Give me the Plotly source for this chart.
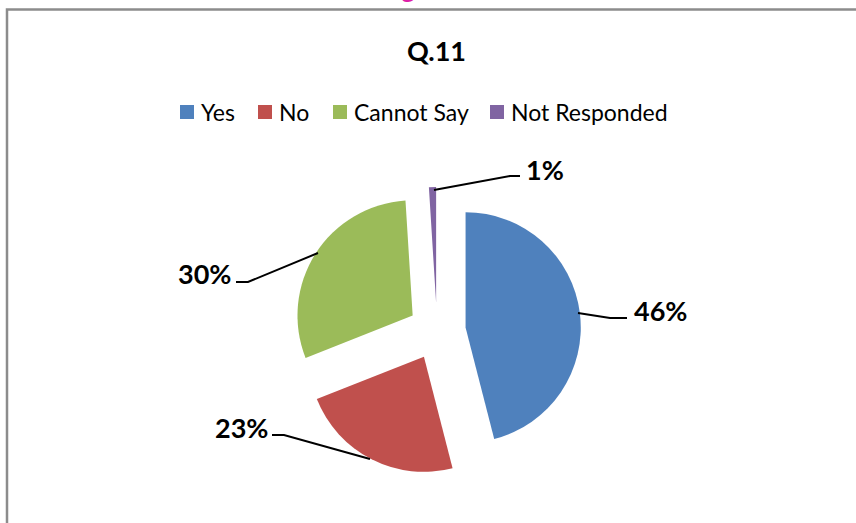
import plotly.graph_objects as go

# Survey responses for Q.11
labels = ["Yes", "No", "Cannot Say", "Not Responded"]
values = [46, 23, 30, 1]
colors = ["#4F81BD", "#C0504D", "#9BBB59", "#8064A2"]

W, H = 856, 523
FONT = "Lato"


def px(x):
    return x / W


def py(y):
    return 1 - y / H


fig = go.Figure()

fig.add_trace(go.Pie(
    labels=labels,
    values=values,
    sort=False,
    direction="clockwise",
    rotation=0,
    pull=[0.25] * len(values),
    marker=dict(colors=colors, line=dict(width=0)),
    textinfo="none",
    hoverinfo="label+percent",
    showlegend=False,
    domain=dict(x=[px(437 - 144), px(437 + 144)], y=[py(331 + 144), py(331 - 144)]),
))

total = sum(values)

# Percentage labels with leader lines
label_pos = [(660, 310), (241, 427), (204, 273), (545, 169)]
leaders = [
    [(578, 313), (610, 318), (627, 318)],
    [(370, 459), (284, 435), (272, 435)],
    [(318, 253), (248, 282), (236, 282)],
    [(434, 190), (510, 176), (520, 176)],
]

annotations = []
shapes = []
for v, (lx, ly), pts in zip(values, label_pos, leaders):
    annotations.append(dict(
        x=px(lx), y=py(ly), xref="paper", yref="paper",
        text=f"<b>{round(100 * v / total)}%</b>", showarrow=False,
        font=dict(family=FONT, size=27, color="black"),
        xanchor="center", yanchor="middle",
    ))
    path = "M " + " L ".join(f"{px(x)},{py(y)}" for x, y in pts)
    shapes.append(dict(type="path", path=path, xref="paper", yref="paper",
                       line=dict(color="black", width=2)))

# Legend row
legend_x = [180, 258, 333, 490]
for name, c, lx in zip(labels, colors, legend_x):
    shapes.append(dict(type="rect", xref="paper", yref="paper",
                       x0=px(lx), x1=px(lx + 14), y0=py(119), y1=py(105),
                       fillcolor=c, line=dict(width=0)))
    annotations.append(dict(
        x=px(lx + 19), y=py(112), xref="paper", yref="paper",
        text=name, showarrow=False, xanchor="left", yanchor="middle",
        font=dict(family=FONT, size=23, color="black"),
    ))

# Chart title
annotations.append(dict(
    x=px(437), y=py(50), xref="paper", yref="paper",
    text="<b>Q.11</b>", showarrow=False, xanchor="center", yanchor="middle",
    font=dict(family=FONT, size=27, color="black"),
))

# Figure caption above the chart frame
annotations.append(dict(
    x=px(378), y=py(-12), xref="paper", yref="paper",
    text="<b>Fig. 11</b>", showarrow=False, xanchor="left", yanchor="middle",
    font=dict(family=FONT, size=26, color="#DD1FA8"),
))

# Chart frame (left and top edges)
shapes.append(dict(type="path", xref="paper", yref="paper",
                   path=f"M {px(7)},{py(530)} L {px(7)},{py(9.5)} L {px(860)},{py(9.5)}",
                   line=dict(color="#8C8C8C", width=2.5)))

fig.update_layout(
    width=W, height=H,
    margin=dict(l=0, r=0, t=0, b=0),
    paper_bgcolor="white",
    plot_bgcolor="white",
    annotations=annotations,
    shapes=shapes,
)

fig.write_html("out.html")
